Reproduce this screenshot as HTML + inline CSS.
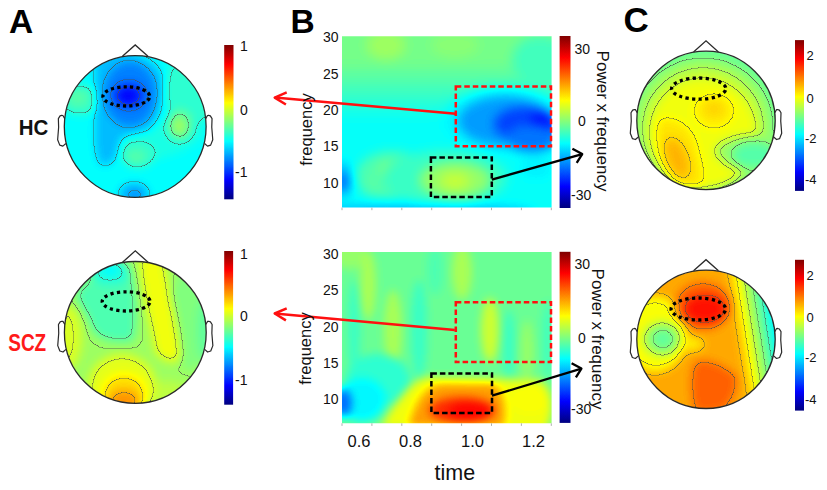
<!DOCTYPE html>
<html><head><meta charset="utf-8"><style>
html,body{margin:0;padding:0;background:#fff;width:827px;height:490px;overflow:hidden}
svg{display:block}
text{font-family:"Liberation Sans",sans-serif}
</style></head><body>
<svg width="827" height="490" viewBox="0 0 827 490">
<defs><filter id="tf1" filterUnits="userSpaceOnUse" x="0" y="0" width="827" height="490" color-interpolation-filters="sRGB"><feGaussianBlur stdDeviation="4" result="f"/><feComponentTransfer in="f" result="c"><feFuncR type="table" tableValues="0 0 0 0 0.5 1 1 1 0.5"/><feFuncG type="table" tableValues="0 0 0.5 1 1 1 0.5 0 0"/><feFuncB type="table" tableValues="0.5 1 1 1 0.5 0 0 0 0"/></feComponentTransfer><feComponentTransfer in="f" result="q"><feFuncR type="discrete" tableValues="0.0000 0.0625 0.1250 0.1875 0.2500 0.3125 0.3750 0.4375 0.5000 0.5625 0.6250 0.6875 0.7500 0.8125 0.8750 0.9375 1.0000"/></feComponentTransfer><feConvolveMatrix in="q" order="3" kernelMatrix="0 -1 0 -1 4 -1 0 -1 0" divisor="1" preserveAlpha="true" result="e"/><feColorMatrix in="e" type="matrix" values="0 0 0 0 0.3  0 0 0 0 0.32  0 0 0 0 0.3  6.72 0 0 0 0" result="l0"/><feGaussianBlur in="l0" stdDeviation="0.45" result="l"/><feComposite in="l" in2="c" operator="over"/></filter><clipPath id="tc1"><circle cx="135.2" cy="126.5" r="70.9"/></clipPath><filter id="tf2" filterUnits="userSpaceOnUse" x="0" y="0" width="827" height="490" color-interpolation-filters="sRGB"><feGaussianBlur stdDeviation="5" result="f"/><feComponentTransfer in="f" result="c"><feFuncR type="table" tableValues="0 0 0 0 0.5 1 1 1 0.5"/><feFuncG type="table" tableValues="0 0 0.5 1 1 1 0.5 0 0"/><feFuncB type="table" tableValues="0.5 1 1 1 0.5 0 0 0 0"/></feComponentTransfer><feComponentTransfer in="f" result="q"><feFuncR type="discrete" tableValues="0.0000 0.0625 0.1250 0.1875 0.2500 0.3125 0.3750 0.4375 0.5000 0.5625 0.6250 0.6875 0.7500 0.8125 0.8750 0.9375 1.0000"/></feComponentTransfer><feConvolveMatrix in="q" order="3" kernelMatrix="0 -1 0 -1 4 -1 0 -1 0" divisor="1" preserveAlpha="true" result="e"/><feColorMatrix in="e" type="matrix" values="0 0 0 0 0.3  0 0 0 0 0.32  0 0 0 0 0.3  6.72 0 0 0 0" result="l0"/><feGaussianBlur in="l0" stdDeviation="0.45" result="l"/><feComposite in="l" in2="c" operator="over"/></filter><clipPath id="tc2"><circle cx="135.3" cy="332.4" r="70.9"/></clipPath><filter id="tf3" filterUnits="userSpaceOnUse" x="0" y="0" width="827" height="490" color-interpolation-filters="sRGB"><feComponentTransfer in="SourceGraphic" result="c"><feFuncR type="table" tableValues="0 0 0 0 0.5 1 1 1 0.5"/><feFuncG type="table" tableValues="0 0 0.5 1 1 1 0.5 0 0"/><feFuncB type="table" tableValues="0.5 1 1 1 0.5 0 0 0 0"/></feComponentTransfer></filter><linearGradient id="cg3" x1="0" y1="1" x2="0" y2="0"><stop offset="0" stop-color="#000"/><stop offset="1" stop-color="#fff"/></linearGradient><filter id="tf4" filterUnits="userSpaceOnUse" x="0" y="0" width="827" height="490" color-interpolation-filters="sRGB"><feComponentTransfer in="SourceGraphic" result="c"><feFuncR type="table" tableValues="0 0 0 0 0.5 1 1 1 0.5"/><feFuncG type="table" tableValues="0 0 0.5 1 1 1 0.5 0 0"/><feFuncB type="table" tableValues="0.5 1 1 1 0.5 0 0 0 0"/></feComponentTransfer></filter><linearGradient id="cg4" x1="0" y1="1" x2="0" y2="0"><stop offset="0" stop-color="#000"/><stop offset="1" stop-color="#fff"/></linearGradient><filter id="tf5" filterUnits="userSpaceOnUse" x="0" y="0" width="827" height="490" color-interpolation-filters="sRGB"><feGaussianBlur stdDeviation="5.5" result="f"/><feComponentTransfer in="f" result="c"><feFuncR type="table" tableValues="0 0 0 0 0.5 1 1 1 0.5"/><feFuncG type="table" tableValues="0 0 0.5 1 1 1 0.5 0 0"/><feFuncB type="table" tableValues="0.5 1 1 1 0.5 0 0 0 0"/></feComponentTransfer></filter><clipPath id="tc5"><rect x="342" y="36.2" width="209.6" height="171.4"/></clipPath><linearGradient id="lg10" x1="0" y1="0" x2="0" y2="1"><stop offset="0" stop-color="#7d7d7d"/><stop offset="1" stop-color="#616161"/></linearGradient><linearGradient id="lg11" x1="0" y1="0" x2="0" y2="1"><stop offset="0" stop-color="#7d7d7d"/><stop offset="1" stop-color="#7d7d7d"/></linearGradient><filter id="tf6" filterUnits="userSpaceOnUse" x="0" y="0" width="827" height="490" color-interpolation-filters="sRGB"><feGaussianBlur stdDeviation="4.5" result="f"/><feComponentTransfer in="f" result="c"><feFuncR type="table" tableValues="0 0 0 0 0.5 1 1 1 0.5"/><feFuncG type="table" tableValues="0 0 0.5 1 1 1 0.5 0 0"/><feFuncB type="table" tableValues="0.5 1 1 1 0.5 0 0 0 0"/></feComponentTransfer></filter><clipPath id="tc6"><rect x="342" y="251.9" width="209.6" height="171.3"/></clipPath><filter id="tf7" filterUnits="userSpaceOnUse" x="0" y="0" width="827" height="490" color-interpolation-filters="sRGB"><feComponentTransfer in="SourceGraphic" result="c"><feFuncR type="table" tableValues="0 0 0 0 0.5 1 1 1 0.5"/><feFuncG type="table" tableValues="0 0 0.5 1 1 1 0.5 0 0"/><feFuncB type="table" tableValues="0.5 1 1 1 0.5 0 0 0 0"/></feComponentTransfer></filter><linearGradient id="cg7" x1="0" y1="1" x2="0" y2="0"><stop offset="0" stop-color="#000"/><stop offset="1" stop-color="#fff"/></linearGradient><filter id="tf8" filterUnits="userSpaceOnUse" x="0" y="0" width="827" height="490" color-interpolation-filters="sRGB"><feComponentTransfer in="SourceGraphic" result="c"><feFuncR type="table" tableValues="0 0 0 0 0.5 1 1 1 0.5"/><feFuncG type="table" tableValues="0 0 0.5 1 1 1 0.5 0 0"/><feFuncB type="table" tableValues="0.5 1 1 1 0.5 0 0 0 0"/></feComponentTransfer></filter><linearGradient id="cg8" x1="0" y1="1" x2="0" y2="0"><stop offset="0" stop-color="#000"/><stop offset="1" stop-color="#fff"/></linearGradient><filter id="tf9" filterUnits="userSpaceOnUse" x="0" y="0" width="827" height="490" color-interpolation-filters="sRGB"><feGaussianBlur stdDeviation="5" result="f"/><feComponentTransfer in="f" result="c"><feFuncR type="table" tableValues="0 0 0 0 0.5 1 1 1 0.5"/><feFuncG type="table" tableValues="0 0 0.5 1 1 1 0.5 0 0"/><feFuncB type="table" tableValues="0.5 1 1 1 0.5 0 0 0 0"/></feComponentTransfer><feComponentTransfer in="f" result="q"><feFuncR type="discrete" tableValues="0.0000 0.0435 0.0870 0.1304 0.1739 0.2174 0.2609 0.3043 0.3478 0.3913 0.4348 0.4783 0.5217 0.5652 0.6087 0.6522 0.6957 0.7391 0.7826 0.8261 0.8696 0.9130 0.9565 1.0000"/></feComponentTransfer><feConvolveMatrix in="q" order="3" kernelMatrix="0 -1 0 -1 4 -1 0 -1 0" divisor="1" preserveAlpha="true" result="e"/><feColorMatrix in="e" type="matrix" values="0 0 0 0 0.3  0 0 0 0 0.32  0 0 0 0 0.3  9.66 0 0 0 0" result="l0"/><feGaussianBlur in="l0" stdDeviation="0.45" result="l"/><feComposite in="l" in2="c" operator="over"/></filter><clipPath id="tc9"><circle cx="706" cy="120.4" r="69.2"/></clipPath><filter id="tf10" filterUnits="userSpaceOnUse" x="0" y="0" width="827" height="490" color-interpolation-filters="sRGB"><feGaussianBlur stdDeviation="5" result="f"/><feComponentTransfer in="f" result="c"><feFuncR type="table" tableValues="0 0 0 0 0.5 1 1 1 0.5"/><feFuncG type="table" tableValues="0 0 0.5 1 1 1 0.5 0 0"/><feFuncB type="table" tableValues="0.5 1 1 1 0.5 0 0 0 0"/></feComponentTransfer><feComponentTransfer in="f" result="q"><feFuncR type="discrete" tableValues="0.0000 0.0667 0.1333 0.2000 0.2667 0.3333 0.4000 0.4667 0.5333 0.6000 0.6667 0.7333 0.8000 0.8667 0.9333 1.0000"/></feComponentTransfer><feConvolveMatrix in="q" order="3" kernelMatrix="0 -1 0 -1 4 -1 0 -1 0" divisor="1" preserveAlpha="true" result="e"/><feColorMatrix in="e" type="matrix" values="0 0 0 0 0.3  0 0 0 0 0.32  0 0 0 0 0.3  6.30 0 0 0 0" result="l0"/><feGaussianBlur in="l0" stdDeviation="0.45" result="l"/><feComposite in="l" in2="c" operator="over"/></filter><clipPath id="tc10"><circle cx="706" cy="339.3" r="69.2"/></clipPath><linearGradient id="lg22" x1="0" y1="0" x2="1" y2="0"><stop offset="0" stop-color="#b5b5b5"/><stop offset="1" stop-color="#545454"/></linearGradient><filter id="tf11" filterUnits="userSpaceOnUse" x="0" y="0" width="827" height="490" color-interpolation-filters="sRGB"><feComponentTransfer in="SourceGraphic" result="c"><feFuncR type="table" tableValues="0 0 0 0 0.5 1 1 1 0.5"/><feFuncG type="table" tableValues="0 0 0.5 1 1 1 0.5 0 0"/><feFuncB type="table" tableValues="0.5 1 1 1 0.5 0 0 0 0"/></feComponentTransfer></filter><linearGradient id="cg11" x1="0" y1="1" x2="0" y2="0"><stop offset="0" stop-color="#000"/><stop offset="1" stop-color="#fff"/></linearGradient><filter id="tf12" filterUnits="userSpaceOnUse" x="0" y="0" width="827" height="490" color-interpolation-filters="sRGB"><feComponentTransfer in="SourceGraphic" result="c"><feFuncR type="table" tableValues="0 0 0 0 0.5 1 1 1 0.5"/><feFuncG type="table" tableValues="0 0 0.5 1 1 1 0.5 0 0"/><feFuncB type="table" tableValues="0.5 1 1 1 0.5 0 0 0 0"/></feComponentTransfer></filter><linearGradient id="cg12" x1="0" y1="1" x2="0" y2="0"><stop offset="0" stop-color="#000"/><stop offset="1" stop-color="#fff"/></linearGradient></defs>
<rect width="827" height="490" fill="#fff"/>
<g clip-path="url(#tc1)"><g filter="url(#tf1)"><rect x="34.29999999999998" y="25.599999999999994" width="201.8" height="201.8" fill="#606060"/><ellipse cx="192" cy="90" rx="28" ry="36" fill="#6b6b6b"/><ellipse cx="160" cy="140" rx="45" ry="18" fill="#666666" transform="rotate(-15 160 140)"/><ellipse cx="80" cy="100" rx="20" ry="15" fill="#6e6e6e"/><ellipse cx="78" cy="98" rx="10" ry="8" fill="#757575"/><ellipse cx="180" cy="125" rx="13" ry="16" fill="#787878"/><ellipse cx="179" cy="126" rx="7" ry="9" fill="#878787"/><ellipse cx="138" cy="155" rx="17" ry="13" fill="#6e6e6e"/><ellipse cx="136" cy="157" rx="8" ry="7" fill="#757575"/><path d="M 100 56 C 120 48, 152 53, 162 75 C 165 95, 160 115, 152 128 C 140 136, 124 132, 120 142 C 118 157, 112 168, 100 164 C 93 150, 96 120, 96 100 C 96 80, 92 60, 100 56 Z" fill="#4f4f4f"/><ellipse cx="130" cy="94" rx="26" ry="32" fill="#404040"/><ellipse cx="129" cy="95" rx="16" ry="13" fill="#303030"/><ellipse cx="128" cy="96" rx="11" ry="8" fill="#212121"/><ellipse cx="134" cy="194" rx="15" ry="11" fill="#4f4f4f"/><ellipse cx="135" cy="195" rx="8" ry="6" fill="#454545"/></g></g><circle cx="135.2" cy="126.5" r="70.9" fill="none" stroke="#2a2a2a" stroke-width="1.3"/><polyline points="122.44,56.31 135.20,44.97 147.96,56.31" fill="none" stroke="#2a2a2a" stroke-width="1.3"/><polyline points="205.67,118.63 207.52,115.51 208.65,115.40 210.34,115.92 212.04,118.63 211.77,127.28 212.76,139.72 210.64,145.12 207.52,146.13 204.54,143.50" fill="none" stroke="#2a2a2a" stroke-width="1.2" stroke-linejoin="round"/><polyline points="64.73,118.63 62.88,115.51 61.75,115.40 60.06,115.92 58.36,118.63 58.63,127.28 57.64,139.72 59.76,145.12 62.88,146.13 65.86,143.50" fill="none" stroke="#2a2a2a" stroke-width="1.2" stroke-linejoin="round"/><ellipse cx="126.3" cy="96.4" rx="23.4" ry="9.6" fill="none" stroke="#000" stroke-width="3.3" stroke-dasharray="3.2 3.168" stroke-dashoffset="-1.584"/><g clip-path="url(#tc2)"><g filter="url(#tf2)"><rect x="34.400000000000006" y="231.5" width="201.8" height="201.8" fill="#878787"/><ellipse cx="190" cy="318" rx="20" ry="52" fill="#808080"/><ellipse cx="205" cy="330" rx="8" ry="32" fill="#787878"/><path d="M 78 290 C 90 275, 125 265, 132 276 C 137 295, 137 330, 133 341 C 112 344, 96 339, 92 329 C 88 312, 72 300, 78 290 Z" fill="#737373"/><ellipse cx="110" cy="272" rx="20" ry="13" fill="#696969"/><ellipse cx="110" cy="270" rx="10" ry="6" fill="#5e5e5e"/><path d="M 139 256 L 164 256 C 167 290, 179 320, 181 360 C 172 364, 160 361, 155 351 C 150 320, 142 300, 139 256 Z" fill="#9c9c9c"/><ellipse cx="68" cy="337" rx="14" ry="32" fill="#969696"/><ellipse cx="166" cy="395" rx="25" ry="14" fill="#8f8f8f"/><ellipse cx="122" cy="386" rx="34" ry="32" fill="#999999"/><ellipse cx="124" cy="394" rx="22" ry="20" fill="#a8a8a8"/><ellipse cx="124" cy="401" rx="15" ry="11" fill="#bababa"/></g></g><circle cx="135.3" cy="332.4" r="70.9" fill="none" stroke="#2a2a2a" stroke-width="1.3"/><polyline points="122.54,262.21 135.30,250.86 148.06,262.21" fill="none" stroke="#2a2a2a" stroke-width="1.3"/><polyline points="205.77,324.53 207.62,321.41 208.75,321.30 210.44,321.82 212.14,324.53 211.87,333.18 212.86,345.62 210.74,351.02 207.62,352.03 204.64,349.40" fill="none" stroke="#2a2a2a" stroke-width="1.2" stroke-linejoin="round"/><polyline points="64.83,324.53 62.98,321.41 61.85,321.30 60.16,321.82 58.46,324.53 58.73,333.18 57.74,345.62 59.86,351.02 62.98,352.03 65.96,349.40" fill="none" stroke="#2a2a2a" stroke-width="1.2" stroke-linejoin="round"/><ellipse cx="126.1" cy="301.4" rx="23.9" ry="9.6" fill="none" stroke="#000" stroke-width="3.3" stroke-dasharray="3.2 3.276" stroke-dashoffset="-1.638"/><g filter="url(#tf3)"><rect x="224.2" y="45" width="9.3" height="154.3" fill="url(#cg3)"/></g><g filter="url(#tf4)"><rect x="224.2" y="251" width="8.9" height="153.7" fill="url(#cg4)"/></g><g clip-path="url(#tc5)"><g filter="url(#tf5)"><rect x="312" y="6.200000000000003" width="269.6" height="231.4" fill="#616161"/><rect x="300" y="62" width="300" height="58" fill="url(#lg10)"/><rect x="300" y="0" width="300" height="63" fill="url(#lg11)"/><ellipse cx="386" cy="45" rx="20" ry="15" fill="#878787"/><ellipse cx="455" cy="45" rx="24" ry="13" fill="#828282"/><ellipse cx="540" cy="60" rx="28" ry="24" fill="#707070"/><ellipse cx="505" cy="120" rx="62" ry="34" fill="#5e5e5e"/><ellipse cx="505" cy="121" rx="47" ry="25" fill="#474747"/><ellipse cx="525" cy="124" rx="31" ry="17" fill="#303030"/><ellipse cx="543" cy="125" rx="14" ry="12" fill="#212121"/><ellipse cx="532" cy="138" rx="26" ry="14" fill="#3d3d3d"/><ellipse cx="392" cy="175" rx="36" ry="24" fill="#737373"/><ellipse cx="375" cy="185" rx="15" ry="12" fill="#757575"/><ellipse cx="390" cy="170" rx="12" ry="9" fill="#808080"/><ellipse cx="445" cy="178" rx="62" ry="28" fill="#6e6e6e"/><ellipse cx="455" cy="180" rx="36" ry="18" fill="#858585"/><ellipse cx="455" cy="181" rx="15" ry="9" fill="#919191"/><ellipse cx="343" cy="180" rx="8" ry="18" fill="#4c4c4c"/><ellipse cx="343" cy="182" rx="5" ry="8" fill="#333333"/><ellipse cx="420" cy="213" rx="115" ry="9" fill="#4f4f4f"/><ellipse cx="536" cy="168" rx="16" ry="10" fill="#5c5c5c"/></g></g><g clip-path="url(#tc6)"><g filter="url(#tf6)"><rect x="312" y="221.9" width="269.6" height="231.3" fill="#7a7a7a"/><ellipse cx="350" cy="255" rx="18" ry="14" fill="#858585"/><ellipse cx="368" cy="285" rx="8" ry="35" fill="#8a8a8a"/><ellipse cx="393" cy="330" rx="9" ry="40" fill="#8a8a8a"/><ellipse cx="462" cy="272" rx="10" ry="28" fill="#8a8a8a"/><ellipse cx="490" cy="330" rx="9" ry="32" fill="#939393"/><ellipse cx="527" cy="350" rx="7" ry="30" fill="#858585"/><ellipse cx="354" cy="330" rx="6" ry="50" fill="#6e6e6e"/><ellipse cx="419" cy="330" rx="8" ry="50" fill="#6e6e6e"/><ellipse cx="509" cy="345" rx="6" ry="35" fill="#6e6e6e"/><ellipse cx="548" cy="340" rx="6" ry="40" fill="#707070"/><ellipse cx="435" cy="270" rx="8" ry="25" fill="#737373"/><ellipse cx="378" cy="380" rx="32" ry="26" fill="#6b6b6b"/><ellipse cx="362" cy="400" rx="24" ry="22" fill="#5e5e5e"/><ellipse cx="343" cy="403" rx="9" ry="14" fill="#3b3b3b"/><path d="M 380 428 C 395 405, 405 385, 425 377 L 540 380 C 555 390, 555 415, 545 432 Z" fill="#9c9c9c"/><ellipse cx="530" cy="400" rx="20" ry="14" fill="#9e9e9e"/><path d="M 408 428 C 414 405, 422 388, 440 384 L 492 384 C 506 388, 508 420, 502 428 Z" fill="#b8b8b8"/><ellipse cx="462" cy="410" rx="33" ry="13" fill="#d4d4d4"/><ellipse cx="470" cy="411" rx="22" ry="9" fill="#dedede"/></g></g><g filter="url(#tf7)"><rect x="559.6" y="36" width="10.9" height="172" fill="url(#cg7)"/></g><g filter="url(#tf8)"><rect x="559.6" y="251.8" width="10.9" height="171.1" fill="url(#cg8)"/></g><g clip-path="url(#tc9)"><g filter="url(#tf9)"><rect x="606.8" y="21.200000000000003" width="198.4" height="198.4" fill="#7a7a7a"/><ellipse cx="703" cy="126" rx="70" ry="68" fill="#868686"/><ellipse cx="703" cy="128" rx="60" ry="60" fill="#919191"/><ellipse cx="703" cy="134" rx="53" ry="55" fill="#9c9c9c"/><ellipse cx="714" cy="111" rx="20" ry="17" fill="#a4a4a4"/><ellipse cx="714" cy="109" rx="10" ry="8" fill="#aaaaaa"/><path d="M 660 120 C 672 115, 690 125, 695 140 C 700 160, 707 178, 700 187 C 685 192, 668 186, 662 166 C 657 150, 654 125, 660 120 Z" fill="#a6a6a6"/><ellipse cx="677" cy="158" rx="10" ry="21" fill="#b2b2b2" transform="rotate(-22 677 158)"/><path d="M 718 146 C 735 133, 762 133, 785 138 L 785 182 C 762 180, 740 172, 724 162 C 716 156, 713 150, 718 146 Z" fill="#858585"/><ellipse cx="754" cy="155" rx="22" ry="13" fill="#757575"/></g></g><circle cx="706" cy="120.4" r="69.2" fill="none" stroke="#2a2a2a" stroke-width="1.3"/><polyline points="693.54,51.89 706.00,40.82 718.46,51.89" fill="none" stroke="#2a2a2a" stroke-width="1.3"/><polyline points="774.78,112.72 776.58,109.67 777.69,109.56 779.34,110.08 781.00,112.72 780.74,121.16 781.70,133.30 779.63,138.57 776.58,139.55 773.68,136.99" fill="none" stroke="#2a2a2a" stroke-width="1.2" stroke-linejoin="round"/><polyline points="637.22,112.72 635.42,109.67 634.31,109.56 632.66,110.08 631.00,112.72 631.26,121.16 630.30,133.30 632.37,138.57 635.42,139.55 638.32,136.99" fill="none" stroke="#2a2a2a" stroke-width="1.2" stroke-linejoin="round"/><ellipse cx="698.7" cy="88.6" rx="27.1" ry="10.6" fill="none" stroke="#000" stroke-width="3.3" stroke-dasharray="3.2 3.336" stroke-dashoffset="-1.668"/><g clip-path="url(#tc10)"><g filter="url(#tf10)"><rect x="606.8" y="240.10000000000002" width="198.4" height="198.4" fill="#b5b5b5"/><rect x="737" y="230" width="44" height="220" fill="url(#lg22)" transform="rotate(-9 737 340.0)"/><rect x="780" y="230" width="60" height="220" fill="#545454" transform="rotate(-9 737 340.0)"/><ellipse cx="655" cy="334" rx="32" ry="38" fill="#9e9e9e"/><ellipse cx="690" cy="344" rx="14" ry="7" fill="#a3a3a3"/><ellipse cx="662" cy="339" rx="19" ry="17" fill="#878787"/><ellipse cx="663" cy="339" rx="11" ry="10" fill="#787878"/><ellipse cx="703" cy="306" rx="28" ry="24" fill="#c7c7c7"/><ellipse cx="705" cy="309" rx="21" ry="14" fill="#dbdbdb"/><path d="M 695 362 C 705 358, 720 362, 737 376 C 738 390, 732 405, 720 412 L 695 412 C 690 395, 690 370, 695 362 Z" fill="#c7c7c7"/></g></g><circle cx="706" cy="339.3" r="69.2" fill="none" stroke="#2a2a2a" stroke-width="1.3"/><polyline points="693.54,270.79 706.00,259.72 718.46,270.79" fill="none" stroke="#2a2a2a" stroke-width="1.3"/><polyline points="774.78,331.62 776.58,328.57 777.69,328.46 779.34,328.98 781.00,331.62 780.74,340.06 781.70,352.20 779.63,357.47 776.58,358.45 773.68,355.89" fill="none" stroke="#2a2a2a" stroke-width="1.2" stroke-linejoin="round"/><polyline points="637.22,331.62 635.42,328.57 634.31,328.46 632.66,328.98 631.00,331.62 631.26,340.06 630.30,352.20 632.37,357.47 635.42,358.45 638.32,355.89" fill="none" stroke="#2a2a2a" stroke-width="1.2" stroke-linejoin="round"/><ellipse cx="698.3" cy="309" rx="27.3" ry="11" fill="none" stroke="#000" stroke-width="3.3" stroke-dasharray="3.2 3.423" stroke-dashoffset="-1.711"/><g filter="url(#tf11)"><rect x="795" y="40.1" width="9" height="150.8" fill="url(#cg11)"/></g><g filter="url(#tf12)"><rect x="795" y="259.8" width="9" height="150.8" fill="url(#cg12)"/></g><rect x="455.8" y="86.4" width="95.19999999999999" height="59.900000000000006" fill="none" stroke="#ff1010" stroke-width="2.5" stroke-dasharray="5.5 3"/><rect x="455.8" y="302.20000000000005" width="95.19999999999999" height="59.89999999999998" fill="none" stroke="#ff1010" stroke-width="2.5" stroke-dasharray="5.5 3"/><rect x="430.9" y="157.4" width="60.900000000000034" height="39.599999999999994" fill="none" stroke="#000" stroke-width="2.5" stroke-dasharray="5.5 3"/><rect x="431.4" y="373.4" width="60.60000000000002" height="39.5" fill="none" stroke="#000" stroke-width="2.5" stroke-dasharray="5.5 3"/><line x1="455.8" y1="113.7" x2="274.7" y2="97.6" stroke="#ff1010" stroke-width="2.5"/><polyline points="286.7,92.39999999999999 274.7,97.6 285.9,104.5" fill="none" stroke="#ff1010" stroke-width="2.5" stroke-linejoin="round"/><line x1="454.8" y1="329.9" x2="274.7" y2="313.5" stroke="#ff1010" stroke-width="2.5"/><polyline points="286.7,308.3 274.7,313.5 285.9,320.4" fill="none" stroke="#ff1010" stroke-width="2.5" stroke-linejoin="round"/><line x1="491.8" y1="179.6" x2="582.2" y2="154.1" stroke="#000" stroke-width="2.3"/><polyline points="572.4000000000001,148.7 582.2,154.1 576.7,162.9" fill="none" stroke="#000" stroke-width="2.3" stroke-linejoin="round"/><line x1="492" y1="395.7" x2="581.4" y2="368.6" stroke="#000" stroke-width="2.3"/><polyline points="571.6,363.20000000000005 581.4,368.6 575.9,377.40000000000003" fill="none" stroke="#000" stroke-width="2.3" stroke-linejoin="round"/><line x1="342.0" y1="207.6" x2="342.0" y2="210.2" stroke="#b0b0b0" stroke-width="1"/><line x1="371.9" y1="207.6" x2="371.9" y2="210.2" stroke="#b0b0b0" stroke-width="1"/><line x1="401.8" y1="207.6" x2="401.8" y2="210.2" stroke="#b0b0b0" stroke-width="1"/><line x1="431.7" y1="207.6" x2="431.7" y2="210.2" stroke="#b0b0b0" stroke-width="1"/><line x1="461.6" y1="207.6" x2="461.6" y2="210.2" stroke="#b0b0b0" stroke-width="1"/><line x1="491.5" y1="207.6" x2="491.5" y2="210.2" stroke="#b0b0b0" stroke-width="1"/><line x1="521.4" y1="207.6" x2="521.4" y2="210.2" stroke="#b0b0b0" stroke-width="1"/><line x1="551.3" y1="207.6" x2="551.3" y2="210.2" stroke="#b0b0b0" stroke-width="1"/><line x1="342.0" y1="423.3" x2="342.0" y2="425.9" stroke="#b0b0b0" stroke-width="1"/><line x1="371.9" y1="423.3" x2="371.9" y2="425.9" stroke="#b0b0b0" stroke-width="1"/><line x1="401.8" y1="423.3" x2="401.8" y2="425.9" stroke="#b0b0b0" stroke-width="1"/><line x1="431.7" y1="423.3" x2="431.7" y2="425.9" stroke="#b0b0b0" stroke-width="1"/><line x1="461.6" y1="423.3" x2="461.6" y2="425.9" stroke="#b0b0b0" stroke-width="1"/><line x1="491.5" y1="423.3" x2="491.5" y2="425.9" stroke="#b0b0b0" stroke-width="1"/><line x1="521.4" y1="423.3" x2="521.4" y2="425.9" stroke="#b0b0b0" stroke-width="1"/><line x1="551.3" y1="423.3" x2="551.3" y2="425.9" stroke="#b0b0b0" stroke-width="1"/><g font-family="Liberation Sans, sans-serif"><text x="9" y="32.8" font-size="33.5" text-anchor="start" font-weight="bold" fill="#000">A</text><text x="290.5" y="32.8" font-size="33.5" text-anchor="start" font-weight="bold" fill="#000">B</text><text x="623.5" y="32.4" font-size="35" text-anchor="start" font-weight="bold" fill="#000">C</text><text x="0" y="0" font-size="22.5" text-anchor="start" font-weight="bold" fill="#111" transform="translate(18.7,134.9) scale(0.91,1)">HC</text><text x="0" y="0" font-size="24" text-anchor="start" font-weight="bold" fill="#ff1a1a" transform="translate(8.3,351) scale(0.79,1)">SCZ</text><text x="240" y="50.8" font-size="14" text-anchor="start" font-weight="normal" fill="#111">1</text><text x="240" y="114.5" font-size="14" text-anchor="start" font-weight="normal" fill="#111">0</text><text x="235" y="177.3" font-size="14" text-anchor="start" font-weight="normal" fill="#111">-1</text><text x="240" y="258.5" font-size="14" text-anchor="start" font-weight="normal" fill="#111">1</text><text x="240" y="321.0" font-size="14" text-anchor="start" font-weight="normal" fill="#111">0</text><text x="235" y="385.0" font-size="14" text-anchor="start" font-weight="normal" fill="#111">-1</text><text x="338.5" y="42.400000000000006" font-size="14" text-anchor="end" font-weight="normal" fill="#111">30</text><text x="338.5" y="78.75" font-size="14" text-anchor="end" font-weight="normal" fill="#111">25</text><text x="338.5" y="115.10000000000001" font-size="14" text-anchor="end" font-weight="normal" fill="#111">20</text><text x="338.5" y="151.45000000000002" font-size="14" text-anchor="end" font-weight="normal" fill="#111">15</text><text x="338.5" y="187.8" font-size="14" text-anchor="end" font-weight="normal" fill="#111">10</text><text x="338.5" y="258.9" font-size="14" text-anchor="end" font-weight="normal" fill="#111">30</text><text x="338.5" y="295.25" font-size="14" text-anchor="end" font-weight="normal" fill="#111">25</text><text x="338.5" y="331.6" font-size="14" text-anchor="end" font-weight="normal" fill="#111">20</text><text x="338.5" y="367.95000000000005" font-size="14" text-anchor="end" font-weight="normal" fill="#111">15</text><text x="338.5" y="404.3" font-size="14" text-anchor="end" font-weight="normal" fill="#111">10</text><text x="574.5" y="54.3" font-size="14" text-anchor="start" font-weight="normal" fill="#111">30</text><text x="578" y="126.3" font-size="14" text-anchor="start" font-weight="normal" fill="#111">0</text><text x="571" y="199.8" font-size="14" text-anchor="start" font-weight="normal" fill="#111">-30</text><text x="574.5" y="268.6" font-size="14" text-anchor="start" font-weight="normal" fill="#111">30</text><text x="578" y="342.9" font-size="14" text-anchor="start" font-weight="normal" fill="#111">0</text><text x="571" y="414.3" font-size="14" text-anchor="start" font-weight="normal" fill="#111">-30</text><text x="347.5" y="447" font-size="16.5" text-anchor="start" font-weight="normal" fill="#111">0.6</text><text x="399.0" y="447" font-size="16.5" text-anchor="start" font-weight="normal" fill="#111">0.8</text><text x="461.0" y="447" font-size="16.5" text-anchor="start" font-weight="normal" fill="#111">1.0</text><text x="522.0" y="447" font-size="16.5" text-anchor="start" font-weight="normal" fill="#111">1.2</text><text x="434.5" y="479.5" font-size="21.5" text-anchor="start" font-weight="normal" fill="#111">time</text><text x="0" y="0" font-size="16.5" text-anchor="middle" font-weight="normal" fill="#111" transform="translate(311.5,129.5) rotate(-90)">frequency</text><text x="0" y="0" font-size="16.5" text-anchor="middle" font-weight="normal" fill="#111" transform="translate(311,348.5) rotate(-90)">frequency</text><text x="0" y="0" font-size="17" text-anchor="middle" font-weight="normal" fill="#111" transform="translate(597,121) rotate(90)">Power x frequency</text><text x="0" y="0" font-size="17" text-anchor="middle" font-weight="normal" fill="#111" transform="translate(592,339) rotate(90)">Power x frequency</text><text x="806.5" y="60.2" font-size="13" text-anchor="start" font-weight="normal" fill="#111">2</text><text x="806.5" y="102.7" font-size="13" text-anchor="start" font-weight="normal" fill="#111">0</text><text x="805" y="142.5" font-size="13" text-anchor="start" font-weight="normal" fill="#111">-2</text><text x="805" y="184.4" font-size="13" text-anchor="start" font-weight="normal" fill="#111">-4</text><text x="806.5" y="279.9" font-size="13" text-anchor="start" font-weight="normal" fill="#111">2</text><text x="806.5" y="322.4" font-size="13" text-anchor="start" font-weight="normal" fill="#111">0</text><text x="805" y="362.2" font-size="13" text-anchor="start" font-weight="normal" fill="#111">-2</text><text x="805" y="404.1" font-size="13" text-anchor="start" font-weight="normal" fill="#111">-4</text></g>
</svg></body></html>
